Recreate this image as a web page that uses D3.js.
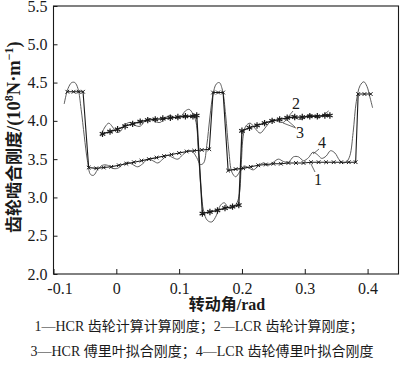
<!DOCTYPE html>
<html><head><meta charset="utf-8">
<script src="https://cdn.jsdelivr.net/npm/d3@7/dist/d3.min.js"></script>
<style>
html,body{margin:0;padding:0;background:#fff;}
svg{display:block;}
</style></head>
<body>
<svg id="chart" width="400" height="366"></svg>
<script>
// ---------- data ----------
const xTicks = [-0.1, 0, 0.1, 0.2, 0.3, 0.4];
const xTickLabels = ["-0.1", "0", "0.1", "0.2", "0.3", "0.4"];
const yTicks = [2.0, 2.5, 3.0, 3.5, 4.0, 4.5, 5.0, 5.5];
const yTickLabels = ["2.0", "2.5", "3.0", "3.5", "4.0", "4.5", "5.0", "5.5"];

// 1 — HCR calculated stiffness
const hcrCalcX = [-0.078, -0.068, -0.060, -0.053,
  -0.044, -0.032, -0.020, -0.008, 0.004, 0.016, 0.028, 0.040, 0.052, 0.064, 0.076, 0.088, 0.100, 0.112, 0.124, 0.136, 0.148,
  0.154, 0.162, 0.170,
  0.178, 0.190, 0.202, 0.214, 0.226, 0.238, 0.250, 0.262, 0.274, 0.286, 0.298, 0.310, 0.322, 0.334, 0.346, 0.358, 0.370, 0.381,
  0.385, 0.395, 0.405];
const hcrCalcY = [4.38, 4.38, 4.38, 4.38,
  3.39, 3.38, 3.39, 3.40, 3.42, 3.44, 3.46, 3.48, 3.50, 3.52, 3.54, 3.56, 3.58, 3.60, 3.61, 3.62, 3.63,
  4.37, 4.37, 4.37,
  3.35, 3.37, 3.38, 3.40, 3.42, 3.43, 3.44, 3.44, 3.45, 3.45, 3.45, 3.46, 3.46, 3.46, 3.46, 3.46, 3.46, 3.46,
  4.35, 4.35, 4.35];

// 2 — LCR calculated stiffness
const lcrCalcX = [-0.022, -0.010, 0.002, 0.014, 0.026, 0.038, 0.050, 0.062, 0.074, 0.086, 0.098, 0.110, 0.122, 0.128,
  0.137, 0.149, 0.161, 0.173, 0.185, 0.195,
  0.200, 0.212, 0.224, 0.236, 0.248, 0.260, 0.272, 0.284, 0.296, 0.308, 0.320, 0.332, 0.340];
const lcrCalcY = [3.83, 3.86, 3.89, 3.93, 3.96, 3.99, 4.01, 4.02, 4.03, 4.04, 4.05, 4.06, 4.06, 4.07,
  2.79, 2.81, 2.83, 2.86, 2.88, 2.90,
  3.87, 3.91, 3.94, 3.97, 4.00, 4.02, 4.04, 4.05, 4.05, 4.06, 4.06, 4.07, 4.07];

// 3 — Fourier fit following the LCR curve
const fitLcrX = [-0.025, -0.018, -0.012, -0.006, 0.000, 0.006, 0.014, 0.022, 0.030, 0.038, 0.046, 0.054, 0.062, 0.070,
  0.078, 0.086, 0.094, 0.102, 0.110, 0.116, 0.122, 0.127, 0.131, 0.135, 0.139, 0.145, 0.152, 0.159, 0.166, 0.172,
  0.179, 0.186, 0.192, 0.196, 0.199, 0.202, 0.206, 0.213, 0.221, 0.229, 0.238, 0.248, 0.258, 0.266, 0.274, 0.282,
  0.290, 0.298, 0.306, 0.314, 0.322, 0.330, 0.338];
const fitLcrY = [3.80, 3.92, 3.97, 3.92, 3.85, 3.86, 3.95, 3.98, 3.94, 3.93, 4.00, 4.03, 3.99, 3.98,
  4.04, 4.07, 4.04, 4.05, 4.13, 4.15, 4.09, 3.98, 3.55, 3.10, 2.82, 2.70, 2.68, 2.76, 2.90, 2.93,
  2.86, 2.87, 2.93, 3.05, 3.45, 3.80, 3.93, 3.97, 3.90, 3.84, 3.92, 4.01, 3.99, 3.98, 4.05, 4.07,
  4.02, 4.03, 4.08, 4.07, 4.04, 4.08, 4.13];

// 4 — Fourier fit following the HCR curve
const fitHcrX = [-0.083, -0.077, -0.071, -0.066, -0.061, -0.056, -0.051, -0.046, -0.041, -0.036, -0.030, -0.022, -0.014,
  -0.006, 0.002, 0.010, 0.018, 0.026, 0.034, 0.042, 0.050, 0.058, 0.066, 0.074, 0.082, 0.090, 0.098, 0.106, 0.114,
  0.121, 0.128, 0.134, 0.139, 0.144, 0.149, 0.154, 0.159, 0.164, 0.169, 0.174, 0.179, 0.184, 0.190, 0.196, 0.203,
  0.210, 0.218, 0.226, 0.234, 0.242, 0.250, 0.258, 0.266, 0.274, 0.282, 0.290, 0.298, 0.306, 0.313, 0.320, 0.327,
  0.334, 0.341, 0.348, 0.355, 0.361, 0.367, 0.372, 0.377, 0.382, 0.388, 0.394, 0.399, 0.404, 0.408];
const fitHcrY = [4.22, 4.42, 4.50, 4.50, 4.42, 4.15, 3.80, 3.48, 3.30, 3.29, 3.36, 3.42, 3.42,
  3.38, 3.38, 3.43, 3.46, 3.43, 3.40, 3.44, 3.50, 3.48, 3.45, 3.50, 3.55, 3.52, 3.50, 3.56, 3.61,
  3.60, 3.52, 3.43, 3.45, 3.68, 4.05, 4.35, 4.48, 4.50, 4.40, 4.08, 3.62, 3.33, 3.27, 3.33, 3.41,
  3.39, 3.36, 3.41, 3.45, 3.42, 3.46, 3.50, 3.47, 3.46, 3.53, 3.53, 3.48, 3.52, 3.59, 3.56, 3.51,
  3.54, 3.61, 3.58, 3.49, 3.45, 3.47, 3.55, 3.85, 4.25, 4.46, 4.51, 4.45, 4.30, 4.17];

const curveLabels = ["1", "2", "3", "4"];
const xTitle = "转动角/rad";
const yTitleZh = "齿轮啮合刚度";
const legendLines = ["1—HCR 齿轮计算计算刚度；2—LCR 齿轮计算刚度；",
                     "3—HCR 傅里叶拟合刚度；4—LCR 齿轮傅里叶拟合刚度"];

// ---------- drawing ----------
(function () {
const svg = d3.select("#chart");
const serif = "'Liberation Serif','Times New Roman','Noto Sans CJK SC',serif";
const pL = 53.5, pR = 399, pT = 6, pB = 274;
const x = d3.scaleLinear().domain([-0.1, 0.45]).range([pL, pR]);
const y = d3.scaleLinear().domain([2.0, 5.5]).range([pB, pT]);
const ink = "#1a1a1a";

// frame
svg.append("rect").attr("x", pL).attr("y", pT).attr("width", pR - pL - 0.5).attr("height", pB - pT)
  .attr("fill", "none").attr("stroke", ink).attr("stroke-width", 1.1);

// axes (ticks inward)
const xAxis = d3.axisBottom(x).tickValues(xTicks).tickSize(-5).tickPadding(9)
  .tickFormat((d, i) => xTickLabels[i]);
const gx = svg.append("g").attr("transform", `translate(0,${pB})`).call(xAxis);
const yAxis = d3.axisLeft(y).tickValues(yTicks).tickSize(-4).tickPadding(6)
  .tickFormat((d, i) => yTickLabels[i]);
const gy = svg.append("g").attr("transform", `translate(${pL},0)`).call(yAxis);
[gx, gy].forEach(g => {
  g.select(".domain").remove();
  g.selectAll(".tick line").attr("stroke", ink).attr("stroke-width", 1);
  g.selectAll(".tick text").attr("font-family", serif).attr("font-size", 16).attr("fill", ink);
});
gx.selectAll(".tick text").filter((d, i) => i === 0).attr("dx", 6);

const zip = (xs, ys) => xs.map((v, i) => [v, ys[i]]);
const lineLin = d3.line().x(d => x(d[0])).y(d => y(d[1]));
const lineSmooth = d3.line().x(d => x(d[0])).y(d => y(d[1])).curve(d3.curveCatmullRom.alpha(0.5));

// fitted curves
svg.append("path").datum(zip(fitLcrX, fitLcrY)).attr("d", lineSmooth)
  .attr("fill", "none").attr("stroke", "#4a4a4a").attr("stroke-width", 0.9);
svg.append("path").datum(zip(fitHcrX, fitHcrY)).attr("d", lineSmooth)
  .attr("fill", "none").attr("stroke", "#4a4a4a").attr("stroke-width", 0.9);

// calculated curves
const hcr = zip(hcrCalcX, hcrCalcY), lcr = zip(lcrCalcX, lcrCalcY);
svg.append("path").datum(hcr).attr("d", lineLin).attr("fill", "none").attr("stroke", ink).attr("stroke-width", 1.1);
svg.append("path").datum(lcr).attr("d", lineLin).attr("fill", "none").attr("stroke", ink).attr("stroke-width", 1.3);

function star(r, n) {
  let p = "";
  for (let k = 0; k < n; k++) {
    const a = Math.PI * k / n + (n === 2 ? Math.PI / 4 : Math.PI / 2);
    const dx = r * Math.cos(a), dy = r * Math.sin(a);
    p += `M${-dx},${-dy}L${dx},${dy}`;
  }
  return p;
}
svg.append("g").selectAll("path").data(hcr).join("path")
  .attr("transform", d => `translate(${x(d[0])},${y(d[1])})`)
  .attr("d", star(2.6, 2)).attr("stroke", ink).attr("stroke-width", 1);
svg.append("g").selectAll("path").data(lcr).join("path")
  .attr("transform", d => `translate(${x(d[0])},${y(d[1])})`)
  .attr("d", star(3.2, 3)).attr("stroke", ink).attr("stroke-width", 1.2);

// curve number annotations with leaders
const ann = [
  {t: curveLabels[0], tx: 318, ty: 185, l: [[315, 172], [311, 164]]},
  {t: curveLabels[1], tx: 296, ty: 109, l: [[293, 111], [288, 117]]},
  {t: curveLabels[2], tx: 300, ty: 138, l: [[295, 127], [287, 120]]},
  {t: curveLabels[3], tx: 322, ty: 148, l: [[319, 149], [313, 154]]}
];
ann.forEach(a => {
  svg.append("text").attr("x", a.tx).attr("y", a.ty).attr("text-anchor", "middle")
    .attr("font-family", serif).attr("font-size", 16).attr("fill", ink).text(a.t);
  svg.append("line").attr("x1", a.l[0][0]).attr("y1", a.l[0][1]).attr("x2", a.l[1][0]).attr("y2", a.l[1][1])
    .attr("stroke", "#444").attr("stroke-width", 0.8);
});
svg.append("line").attr("x1", 296).attr("y1", 128).attr("x2", 283).attr("y2", 123)
  .attr("stroke", "#444").attr("stroke-width", 0.8);

// axis titles
svg.append("text").attr("x", 227).attr("y", 310).attr("text-anchor", "middle")
  .attr("font-family", serif).attr("font-weight", "bold").attr("font-size", 16).attr("fill", ink).text(xTitle);

const yt = svg.append("text").attr("transform", "translate(20,233) rotate(-90)").attr("text-anchor", "start")
  .attr("font-family", serif).attr("font-weight", "bold").attr("font-size", 18.5).attr("fill", ink);
yt.append("tspan").attr("font-size", 17).text(yTitleZh);
yt.append("tspan").text("/(10");
yt.append("tspan").attr("font-size", 12).attr("dy", -7).text("8");
yt.append("tspan").attr("dy", 7).text("N·m");
yt.append("tspan").attr("font-size", 12).attr("dy", -7).text("−1");
yt.append("tspan").attr("dy", 7).text(")");

// legend text
svg.append("text").attr("x", 199).attr("y", 331).attr("text-anchor", "middle")
  .attr("font-family", serif).attr("font-size", 14).attr("fill", ink).text(legendLines[0]);
svg.append("text").attr("x", 202).attr("y", 356).attr("text-anchor", "middle")
  .attr("font-family", serif).attr("font-size", 14).attr("fill", ink).text(legendLines[1]);
})();
</script>
</body></html>
